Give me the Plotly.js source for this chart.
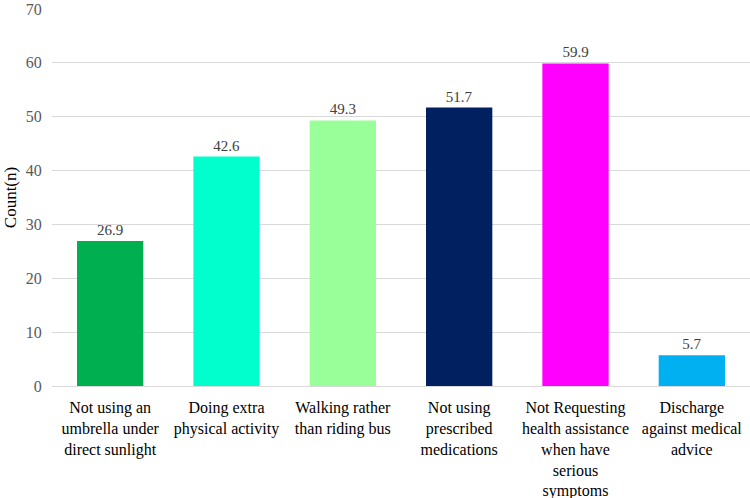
<!DOCTYPE html>
<html>
<head>
<meta charset="utf-8">
<script src="https://cdn.plot.ly/plotly-3.0.1.min.js"></script>
<style>html,body{margin:0;padding:0;background:#fff;}#chart{width:750px;height:498px;}</style>
</head>
<body>
<div id="chart"></div>
<script>
var categories = [
  "Not using an<br>umbrella under<br>direct sunlight",
  "Doing extra<br>physical activity",
  "Walking rather<br>than riding bus",
  "Not using<br>prescribed<br>medications",
  "Not Requesting<br>health assistance<br>when have<br>serious<br>symptoms",
  "Discharge<br>against medical<br>advice"
];
var values = [26.9, 42.6, 49.3, 51.7, 59.9, 5.7];
var barColors = ["#00B050", "#00FFCC", "#99FF99", "#002060", "#FF00FF", "#00B0F0"];
var yTicks = [0, 10, 20, 30, 40, 50, 60, 70];
var FONT = "Liberation Serif";

var trace = {
  type: "bar",
  x: categories,
  y: values,
  marker: {color: barColors},
  text: values.map(function(v){return v.toFixed(1);}),
  textposition: "outside",
  cliponaxis: false,
  textfont: {family: FONT, size: 15, color: "#404040"},
  hoverinfo: "none"
};

var layout = {
  width: 750, height: 498,
  margin: {l: 52, r: 0, t: 9, b: 112},
  paper_bgcolor: "#fff", plot_bgcolor: "#fff",
  bargap: 0.43,
  showlegend: false,
  font: {family: FONT, color: "#000"},
  xaxis: {
    showgrid: false, showline: false,
    ticks: "outside", ticklen: 7, tickcolor: "rgba(0,0,0,0)",
    tickfont: {family: FONT, size: 16, color: "#000"},
    automargin: false
  },
  yaxis: {
    range: [0, 70], tickvals: yTicks, ticktext: yTicks.map(String),
    showgrid: true, gridcolor: "#d9d9d9", gridwidth: 1,
    zeroline: true, zerolinecolor: "#d9d9d9", zerolinewidth: 1,
    showline: false, ticks: "outside", ticklen: 6, tickcolor: "rgba(0,0,0,0)",
    tickfont: {family: FONT, size: 16, color: "#595959"},
    title: {text: "Count(n)", font: {family: FONT, size: 17, color: "#000"}, standoff: 4},
    automargin: false
  }
};

Plotly.newPlot("chart", [trace], layout, {displayModeBar: false, staticPlot: true});
</script>
</body>
</html>
